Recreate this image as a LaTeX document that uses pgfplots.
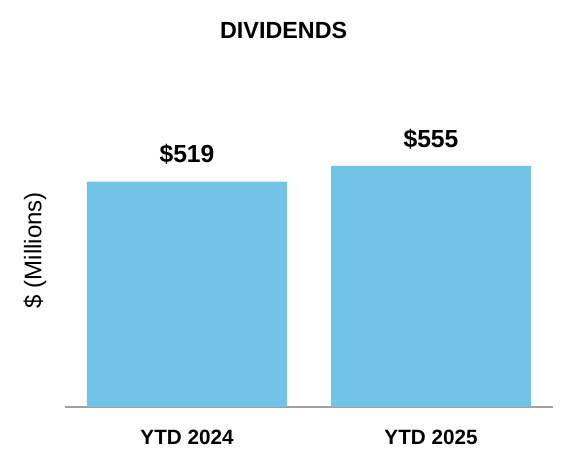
\documentclass[border=0pt]{standalone}
\usepackage{fontspec}
\setmainfont{Liberation Sans}
\usepackage{pgfplots}
\pgfplotsset{compat=1.18}
\definecolor{barblue}{RGB}{113,196,232}
\definecolor{baseline}{RGB}{160,160,160}
\begin{document}
\begin{tikzpicture}
  \begin{axis}[
      scale only axis,
      width=366pt,
      height=228pt,
      xmin=-0.5, xmax=1.5,
      ymin=0, ymax=700,
      axis x line=bottom,
      axis y line=none,
      x axis line style={draw=baseline, line width=1.5pt, -},
      xtick={0,1},
      xticklabels={YTD 2024, YTD 2025},
      major tick length=0pt,
      xticklabel style={font=\fontsize{15.5}{18}\selectfont\bfseries, anchor=center, yshift=-22.5pt},
      ytick=\empty,
      title={DIVIDENDS},
      title style={font=\fontsize{17.5}{20}\selectfont\bfseries, at={(axis description cs:0.5,1)}, anchor=center, yshift=48.75pt, xshift=-19pt},
      ybar,
      bar width=150pt,
      point meta=explicit symbolic,
      nodes near coords,
      nodes near coords style={font=\fontsize{18.5}{22}\selectfont\bfseries, anchor=center, yshift=20.25pt},
      clip=false,
    ]
    \addplot[fill=barblue, draw=none] coordinates {
      (0,519) [\$519]
      (1,555) [\$555]
    };
    \node[rotate=90, anchor=center, font=\fontsize{18}{21}\selectfont]
      at (rel axis cs:-0.0615,0.516) {\$ (Millions)};
  \end{axis}
  \pgfresetboundingbox
  \useasboundingbox (-48.75pt,-44.25pt) rectangle (381.75pt,305.25pt);
\end{tikzpicture}
\end{document}
